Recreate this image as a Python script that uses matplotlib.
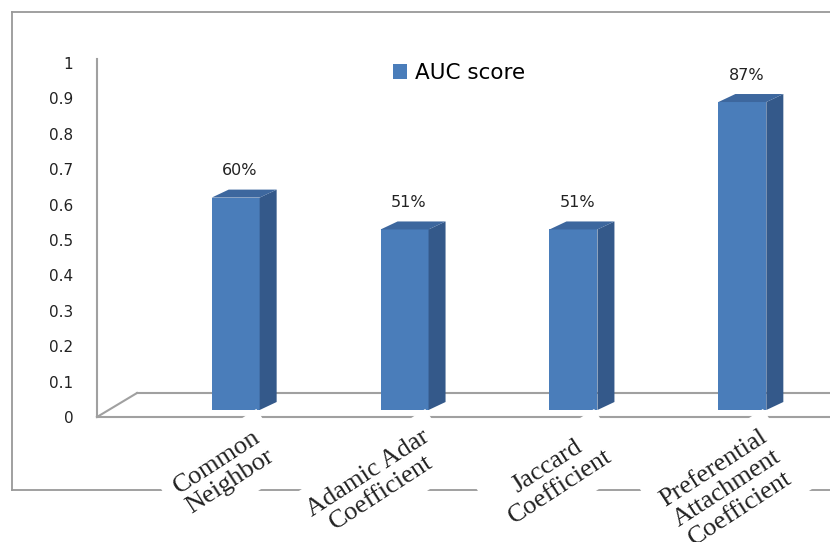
import numpy as np
import matplotlib
matplotlib.use("Agg")
import matplotlib.pyplot as plt
import matplotlib.transforms as mtransforms
from matplotlib.patches import Polygon
from matplotlib.lines import Line2D

# AUC of each link prediction measure
categories = ["Common\nNeighbor", "Adamic Adar\nCoefficient", "Jaccard\nCoefficient",
              "Preferential\nAttachment\nCoefficient"]
auc = [0.60, 0.51, 0.51, 0.87]
yticks = [0, 0.1, 0.2, 0.3, 0.4, 0.5, 0.6, 0.7, 0.8, 0.9, 1]
ytick_labels = ["0", "0.1", "0.2", "0.3", "0.4", "0.5", "0.6", "0.7", "0.8", "0.9", "1"]

W, H, DPI = 830, 542, 100
FRONT = "#4a7dba"
SIDE = "#34598a"
TOP = "#3d679e"
GREY = "#a0a0a0"


def fx(px):
    return px / W


def fy(py):
    return 1 - py / H


fig = plt.figure(figsize=(W / DPI, H / DPI), dpi=DPI)
fig.patch.set_facecolor("white")

ax = fig.add_axes([fx(97), fy(417), fx(830) - fx(97), fy(63) - fy(417)])
xmin, xmax = -0.75, 3.59
ax.set_xlim(xmin, xmax)
ax.set_ylim(0, 1)
for s in ax.spines.values():
    s.set_visible(False)
ax.patch.set_visible(False)
ax.set_xticks([])
ax.set_yticks(yticks, ytick_labels)
ax.tick_params(axis="y", length=0, pad=17, labelsize=11, labelcolor="#222222")

# pixels per data unit
ppx = (830 - 97) / (xmax - xmin)
ppy = 354.0

# fake 3d offsets (pixels)
floor_dx, floor_dy = 40, 24
bar_dx, bar_dy = 12, 7
depth_dx, depth_dy = 17, 8
ddx, ddy = depth_dx / ppx, depth_dy / ppy

shift = ax.transData + mtransforms.ScaledTranslation(bar_dx / DPI, bar_dy / DPI, fig.dpi_scale_trans)

# floor and wall
ax.plot([xmin, xmax], [0, 0], color=GREY, lw=1.5, clip_on=False, zorder=1)
ax.plot([xmin + floor_dx / ppx, xmax], [floor_dy / ppy] * 2, color=GREY, lw=1.5, clip_on=False, zorder=1)
ax.plot([xmin, xmin + floor_dx / ppx], [0, floor_dy / ppy], color=GREY, lw=1.5, clip_on=False, zorder=1)
ax.plot([xmin, xmin], [0, 1.01], color=GREY, lw=1.5, clip_on=False, zorder=1)

x = np.arange(len(auc))
width = 0.284
bars = ax.bar(x, auc, width=width, color=FRONT, transform=shift, zorder=3,
              label="AUC score", clip_on=False)

for xi, v in zip(x, auc):
    xl, xr = xi - width / 2, xi + width / 2
    side = Polygon([(xr, 0), (xr, v), (xr + ddx, v + ddy), (xr + ddx, ddy)],
                   closed=True, facecolor=SIDE, edgecolor="none", transform=shift,
                   zorder=3, clip_on=False)
    top = Polygon([(xl, v), (xr, v), (xr + ddx, v + ddy), (xl + ddx, v + ddy)],
                  closed=True, facecolor=TOP, edgecolor="none", transform=shift,
                  zorder=3, clip_on=False)
    ax.add_patch(side)
    ax.add_patch(top)
    ax.annotate(f"{round(v * 100)}%", xy=(xi + 0.25 * ddx, v + ddy), xycoords=shift,
                xytext=(0, 8), textcoords="offset points", ha="center", va="bottom",
                fontsize=11.5, color="#222222", zorder=4)

    ax.annotate(categories[xi], xy=(xi, 0), xycoords="data",
                xytext=(21, -6), textcoords="offset points",
                ha="right", va="top", rotation=33, rotation_mode="anchor",
                multialignment="center", linespacing=1.12,
                family="Liberation Serif", fontsize=19, color="#222222",
                bbox=dict(boxstyle="square,pad=0.45", facecolor="white", edgecolor="none"),
                zorder=5, annotation_clip=False)

ax.legend(loc="center left", bbox_to_anchor=(fx(393), fy(73)), bbox_transform=fig.transFigure,
          frameon=False, fontsize=15.5, handlelength=0.65, handleheight=0.65,
          handletextpad=0.35, borderpad=0, borderaxespad=0)

# chart frame
for xs, ys in [([12, 12], [12, 490]), ([12, W + 5], [12, 12]), ([12, W + 5], [490, 490])]:
    fig.add_artist(Line2D([fx(p) for p in xs], [fy(p) for p in ys], transform=fig.transFigure,
                          color="#999999", lw=1.3, zorder=-1))

fig.savefig("out.png", dpi=DPI)
